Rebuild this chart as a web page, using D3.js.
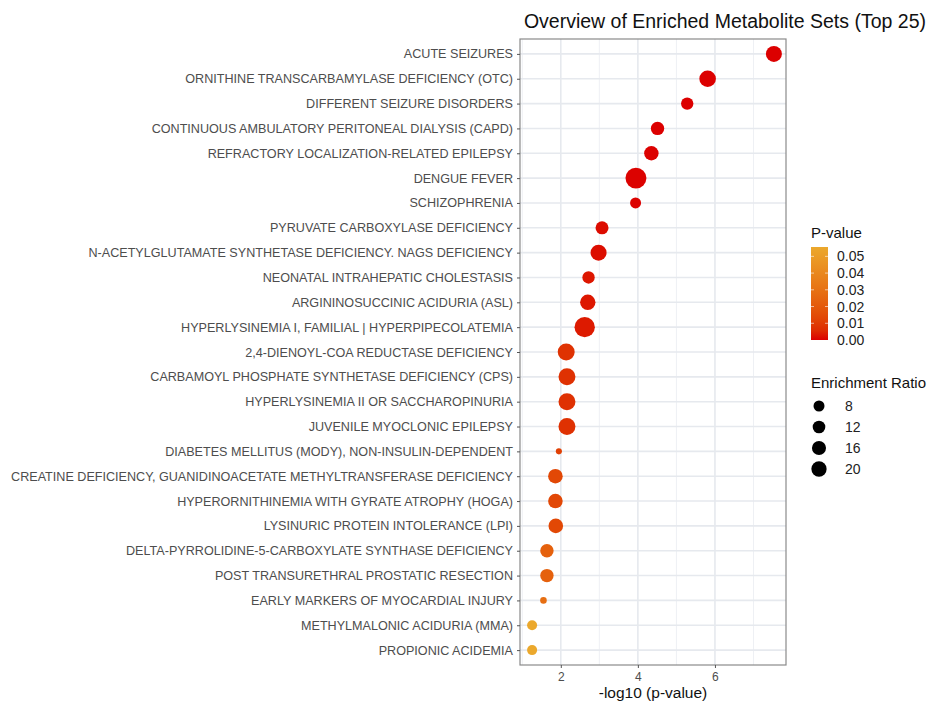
<!DOCTYPE html>
<html>
<head>
<meta charset="utf-8">
<script src="https://cdn.jsdelivr.net/npm/d3@7"></script>
<style>
  body { margin: 0; background: #fff; }
  text { font-family: "Liberation Sans", Arial, sans-serif; }
</style>
</head>
<body>
<div id="vis-container"></div>
<script>
// metabolite sets, top to bottom
var sets = [
  "ACUTE SEIZURES",
  "ORNITHINE TRANSCARBAMYLASE DEFICIENCY (OTC)",
  "DIFFERENT SEIZURE DISORDERS",
  "CONTINUOUS AMBULATORY PERITONEAL DIALYSIS (CAPD)",
  "REFRACTORY LOCALIZATION-RELATED EPILEPSY",
  "DENGUE FEVER",
  "SCHIZOPHRENIA",
  "PYRUVATE CARBOXYLASE DEFICIENCY",
  "N-ACETYLGLUTAMATE SYNTHETASE DEFICIENCY. NAGS DEFICIENCY",
  "NEONATAL INTRAHEPATIC CHOLESTASIS",
  "ARGININOSUCCINIC ACIDURIA (ASL)",
  "HYPERLYSINEMIA I, FAMILIAL | HYPERPIPECOLATEMIA",
  "2,4-DIENOYL-COA REDUCTASE DEFICIENCY",
  "CARBAMOYL PHOSPHATE SYNTHETASE DEFICIENCY (CPS)",
  "HYPERLYSINEMIA II OR SACCHAROPINURIA",
  "JUVENILE MYOCLONIC EPILEPSY",
  "DIABETES MELLITUS (MODY), NON-INSULIN-DEPENDENT",
  "CREATINE DEFICIENCY, GUANIDINOACETATE METHYLTRANSFERASE DEFICIENCY",
  "HYPERORNITHINEMIA WITH GYRATE ATROPHY (HOGA)",
  "LYSINURIC PROTEIN INTOLERANCE (LPI)",
  "DELTA-PYRROLIDINE-5-CARBOXYLATE SYNTHASE DEFICIENCY",
  "POST TRANSURETHRAL PROSTATIC RESECTION",
  "EARLY MARKERS OF MYOCARDIAL INJURY",
  "METHYLMALONIC ACIDURIA (MMA)",
  "PROPIONIC ACIDEMIA"
];
// -log10(p)
var logP = [7.53, 5.81, 5.28, 4.51, 4.35, 3.95, 3.94, 3.07, 2.98, 2.72, 2.70, 2.62,
            2.14, 2.16, 2.16, 2.16, 1.95, 1.86, 1.86, 1.87, 1.64, 1.64, 1.55, 1.255, 1.255];
// enrichment ratio
var ratio = [22.5, 24.7, 11.3, 14.0, 17.1, 44, 8, 12.9, 22.5, 11.3, 20.3, 41,
             26, 26, 26, 26, 0.9, 17.7, 17.7, 17.7, 14.0, 14.0, 1.3, 6.0, 6.0];
var pTicks = [0, 0.01, 0.02, 0.03, 0.04, 0.05];
var sizeTicks = [8, 12, 16, 20];
var xTicks = [2, 4, 6];
var xMinor = [1, 3, 5, 7];

var data = sets.map(function(s, i) {
  return { name: s, x: logP[i], p: Math.pow(10, -logP[i]), er: ratio[i] };
});

var W = 937, H = 709;
var margin = { top: 39, right: 151, bottom: 44, left: 520 };
var width = W - margin.left - margin.right,
    height = H - margin.top - margin.bottom;

var svg = d3.select("#vis-container").append("svg")
  .attr("width", W).attr("height", H);

var ext = d3.extent(data, function(d) { return d.x; });
var pad = (ext[1] - ext[0]) * 0.05;
var x = d3.scaleLinear().domain([ext[0] - pad, ext[1] + pad]).range([0, width]);
var y = d3.scalePoint().domain(sets).range([0, height]).padding(0.6);
var pMax = d3.max(data, function(d) { return d.p; });
var color = d3.scaleLinear().domain([0, pMax])
  .range(["#dc0000", "#eba82c"]).interpolate(d3.interpolateLab);
var r = d3.scalePow().exponent(0.5).domain([8, 20]).range([5.5, 7.65]);

var g = svg.append("g")
  .attr("transform", "translate(" + margin.left + "," + margin.top + ")");

// grid
g.selectAll(".minor").data(xMinor).enter().append("line")
  .attr("x1", x).attr("x2", x).attr("y1", 0).attr("y2", height)
  .attr("stroke", "#eef0f4").attr("stroke-width", 1);
g.selectAll(".majorx").data(xTicks).enter().append("line")
  .attr("x1", x).attr("x2", x).attr("y1", 0).attr("y2", height)
  .attr("stroke", "#e6e9ee").attr("stroke-width", 1.6);
g.selectAll(".majory").data(sets).enter().append("line")
  .attr("x1", 0).attr("x2", width).attr("y1", y).attr("y2", y)
  .attr("stroke", "#e6e9ee").attr("stroke-width", 1.6);

// points
g.selectAll("circle.pt").data(data).enter().append("circle")
  .attr("class", "pt")
  .attr("cx", function(d) { return x(d.x); })
  .attr("cy", function(d) { return y(d.name); })
  .attr("r", function(d) { return r(d.er); })
  .attr("fill", function(d) { return color(d.p); });

// border
g.append("rect").attr("width", width).attr("height", height)
  .attr("fill", "none").attr("stroke", "#8a8a8a").attr("stroke-width", 1.2);

// axes
var yAxis = g.append("g").call(d3.axisLeft(y).tickSize(3).tickPadding(4));
yAxis.select(".domain").remove();
yAxis.selectAll("line").attr("stroke", "#555");
yAxis.selectAll("text").attr("fill", "#4d4d4d").style("font-size", "12.6px");

var xAxis = g.append("g").attr("transform", "translate(0," + height + ")")
  .call(d3.axisBottom(x).tickValues(xTicks).tickFormat(d3.format("d")).tickSize(3).tickPadding(4));
xAxis.select(".domain").remove();
xAxis.selectAll("line").attr("stroke", "#555");
xAxis.selectAll("text").attr("fill", "#4d4d4d").style("font-size", "12px");

svg.append("text").attr("x", margin.left + width / 2).attr("y", 698)
  .attr("text-anchor", "middle").style("font-size", "15.5px").attr("fill", "#111")
  .text("-log10 (p-value)");

svg.append("text").attr("x", 926).attr("y", 28)
  .attr("text-anchor", "end").style("font-size", "19.5px").attr("fill", "#111")
  .text("Overview of Enriched Metabolite Sets (Top 25)");

// colour legend
var defs = svg.append("defs");
var grad = defs.append("linearGradient").attr("id", "pgrad")
  .attr("x1", 0).attr("x2", 0).attr("y1", 1).attr("y2", 0);
d3.range(0, 1.0001, 0.1).forEach(function(t) {
  grad.append("stop").attr("offset", t).attr("stop-color", color(t * pMax));
});
var cb = d3.scaleLinear().domain([0, pMax]).range([340, 247]);
svg.append("text").attr("x", 811).attr("y", 238).style("font-size", "15px")
  .attr("fill", "#111").text("P-value");
svg.append("rect").attr("x", 811).attr("y", cb(pMax)).attr("width", 17)
  .attr("height", cb(0) - cb(pMax)).attr("fill", "url(#pgrad)");
svg.selectAll(".cbt").data(pTicks.slice(1)).enter().append("line")
  .attr("x1", 811).attr("x2", 814).attr("y1", cb).attr("y2", cb)
  .attr("stroke", "#fff").attr("stroke-opacity", 0.6);
svg.selectAll(".cbt2").data(pTicks.slice(1)).enter().append("line")
  .attr("x1", 825).attr("x2", 828).attr("y1", cb).attr("y2", cb)
  .attr("stroke", "#fff").attr("stroke-opacity", 0.6);
svg.selectAll(".cbl").data(pTicks).enter().append("text")
  .attr("x", 837).attr("y", function(d) { return cb(d) + 5; })
  .style("font-size", "14px").attr("fill", "#222")
  .text(function(d) { return d3.format(".2f")(d); });

// size legend
svg.append("text").attr("x", 811).attr("y", 388).style("font-size", "15px")
  .attr("fill", "#111").text("Enrichment Ratio");
var sy = d3.scalePoint().domain(sizeTicks).range([406, 469]);
svg.selectAll(".szc").data(sizeTicks).enter().append("circle")
  .attr("cx", 819).attr("cy", sy).attr("r", r).attr("fill", "#000");
svg.selectAll(".szl").data(sizeTicks).enter().append("text")
  .attr("x", 845).attr("y", function(d) { return sy(d) + 5; })
  .style("font-size", "14px").attr("fill", "#222").text(function(d) { return d; });
</script>
</body>
</html>
